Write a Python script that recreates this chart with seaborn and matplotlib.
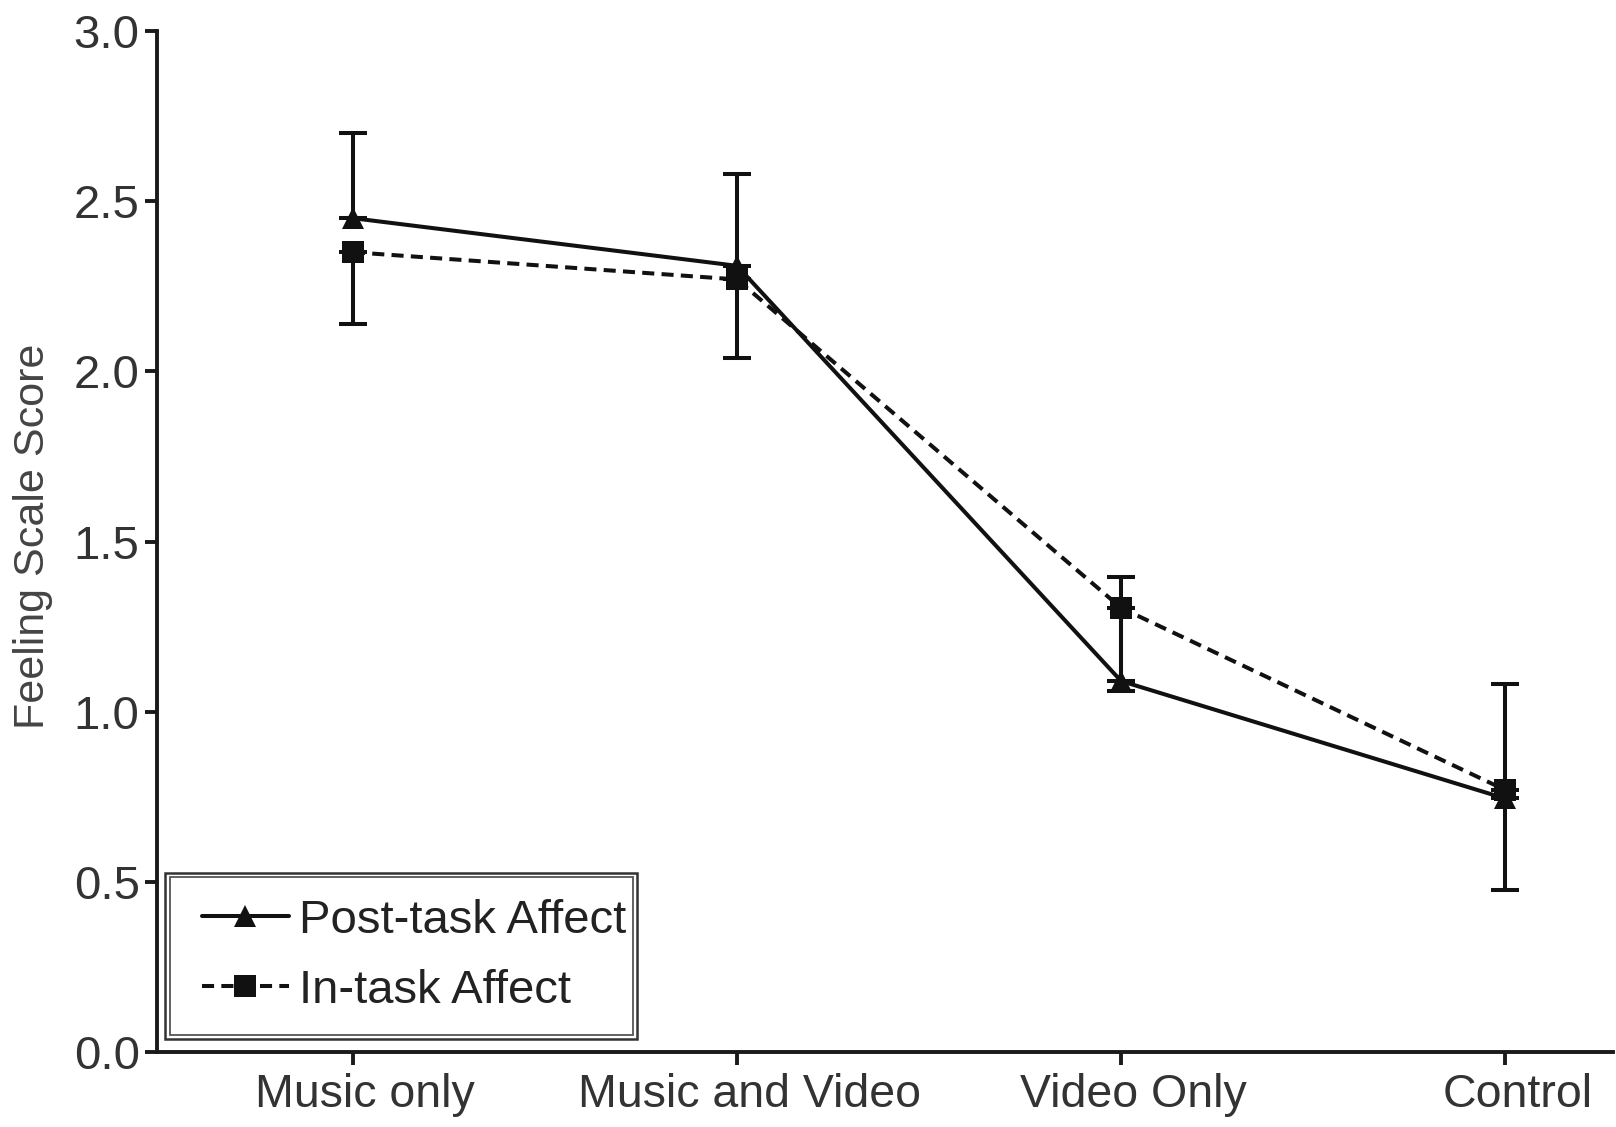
import numpy as np
import pandas as pd
import matplotlib
matplotlib.use("Agg")
import matplotlib.pyplot as plt
from matplotlib.lines import Line2D
from matplotlib.patches import Rectangle
from matplotlib.transforms import ScaledTranslation
import seaborn as sns

categories = ["Music only", "Music and Video", "Video Only", "Control"]
post_task = [2.45, 2.31, 1.09, 0.745]
in_task = [2.35, 2.27, 1.305, 0.77]
post_err_upper = [0.25, 0.27, 0.305, 0.335]
in_err_lower = [0.21, 0.23, 0.245, 0.295]
series_names = ["Post-task Affect", "In-task Affect"]
y_ticks = [0.0, 0.5, 1.0, 1.5, 2.0, 2.5, 3.0]

sns.set_theme(style="ticks")
plt.rcParams["font.family"] = ["Liberation Sans", "DejaVu Sans"]

df = pd.DataFrame({
    "pos": list(range(len(categories))) * 2,
    "score": post_task + in_task,
    "series": [series_names[0]] * 4 + [series_names[1]] * 4,
})

fig = plt.figure(figsize=(16.16, 11.27), dpi=100)
ax = fig.add_axes([0.0972, 0.0665, 0.9008, 0.906])

lw = 2.9
dash = (3, 1.8)
sns.lineplot(data=df, x="pos", y="score", hue="series", style="series",
             palette={series_names[0]: "#111111", series_names[1]: "#111111"},
             dashes={series_names[0]: "", series_names[1]: dash},
             markers={series_names[0]: "^", series_names[1]: "s"},
             markersize=16, markeredgewidth=0, linewidth=lw,
             legend=False, ax=ax, zorder=3)

x = np.arange(len(categories))
ax.errorbar(x, post_task, yerr=[np.zeros(4), post_err_upper], fmt="none",
            ecolor="#111111", elinewidth=lw, capsize=10, capthick=lw, zorder=2)
ax.errorbar(x, in_task, yerr=[in_err_lower, np.zeros(4)], fmt="none",
            ecolor="#111111", elinewidth=lw, capsize=10, capthick=lw, zorder=2)

ax.set_xlim(-0.51, 3.28)
ax.set_ylim(0, 3.0)
ax.set_xticks(x)
ax.set_xticklabels(categories)
ax.set_yticks(y_ticks)
ax.set_yticklabels([f"{v:.1f}" for v in y_ticks])
ax.set_xlabel("")
ax.set_ylabel("Feeling Scale Score", fontsize=31, color="#444444")
ax.yaxis.set_label_coords(-0.0715, 0.505)

for s in ["top", "right"]:
    ax.spines[s].set_visible(False)
for s in ["left", "bottom"]:
    ax.spines[s].set_linewidth(2.8)
    ax.spines[s].set_color("#1a1a1a")
ax.tick_params(axis="y", length=8.5, width=2.8, pad=4, labelsize=34,
               colors="#1a1a1a", labelcolor="#333333")
ax.tick_params(axis="x", length=9, width=2.8, pad=6, labelsize=33.5,
               colors="#1a1a1a", labelcolor="#333333")
offset = ScaledTranslation(0.12, 0, fig.dpi_scale_trans)
for lab in ax.get_xticklabels():
    lab.set_transform(lab.get_transform() + offset)

handles = [
    Line2D([], [], color="#111111", lw=lw, marker="^", markersize=16, markeredgewidth=0),
    Line2D([], [], color="#111111", lw=lw, marker="s", markersize=16, markeredgewidth=0,
           linestyle=(0, dash)),
]
leg = ax.legend(handles, series_names, loc="lower left",
                bbox_to_anchor=(0.0015, -0.003), frameon=False, fontsize=34,
                handlelength=1.84, handletextpad=0.22, labelspacing=0.55,
                labelcolor="#222222")

ax.add_patch(Rectangle((0.0055, 0.0127), 0.3245, 0.163, transform=ax.transAxes,
                       fill=False, lw=1.8, edgecolor="#333333", clip_on=False, zorder=5))
ax.add_patch(Rectangle((0.0087, 0.0170), 0.3181, 0.1545, transform=ax.transAxes,
                       fill=False, lw=1.3, edgecolor="#555555", clip_on=False, zorder=5))

fig.savefig("out.png", dpi=100, facecolor="white")
